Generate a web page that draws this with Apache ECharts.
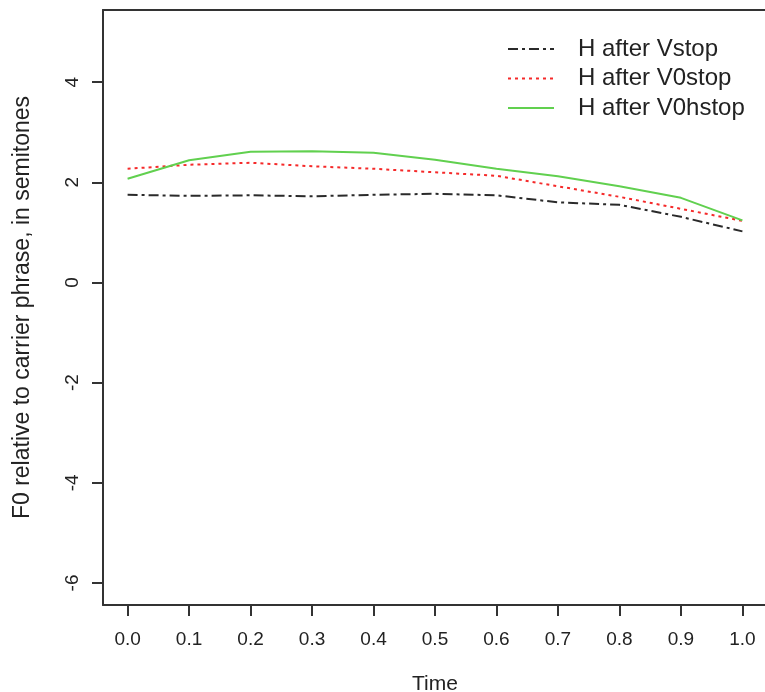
<!DOCTYPE html>
<html>
<head>
<meta charset="utf-8">
<script src="https://cdn.jsdelivr.net/npm/echarts@6/dist/echarts.min.js"></script>
<style>
html,body{margin:0;padding:0;background:#fff;}
#chart{width:765px;height:692px;}
</style>
</head>
<body>
<div id="chart"></div>
<script>
const timePoints = [0.0, 0.1, 0.2, 0.3, 0.4, 0.5, 0.6, 0.7, 0.8, 0.9, 1.0];
const seriesNames = ["H after Vstop", "H after V0stop", "H after V0hstop"];
const vstop   = [1.75, 1.73, 1.74, 1.72, 1.75, 1.77, 1.74, 1.60, 1.55, 1.31, 1.02];
const v0stop  = [2.27, 2.35, 2.39, 2.32, 2.27, 2.20, 2.13, 1.92, 1.71, 1.47, 1.23];
const v0hstop = [2.07, 2.44, 2.61, 2.62, 2.59, 2.45, 2.27, 2.12, 1.92, 1.69, 1.24];
const xTicks = [0.0, 0.1, 0.2, 0.3, 0.4, 0.5, 0.6, 0.7, 0.8, 0.9, 1.0];
const yTicks = [-6, -4, -2, 0, 2, 4];

const FONT = "'Liberation Sans', Arial, sans-serif";
const pairs = arr => timePoints.map((t, i) => [t, arr[i]]);
const AXIS_LINE = {show: true, onZero: false, lineStyle: {color: '#333', width: 2}};

const chart = echarts.init(document.getElementById('chart'), null, {renderer: 'canvas'});
chart.setOption({
  animation: false,
  backgroundColor: '#ffffff',
  textStyle: {fontFamily: FONT, color: '#222'},
  grid: {
    left: 103, top: 10, width: 664, height: 595,
    outerBoundsMode: 'none', containLabel: false, show: false
  },
  legend: {
    left: 507, top: 37, orient: 'vertical', padding: 0,
    itemWidth: 46, itemHeight: 14, itemGap: 5.5,
    itemStyle: {opacity: 0},
    textStyle: {fontFamily: FONT, fontSize: 24, color: '#222', lineHeight: 24, padding: [0, 0, 0, 19]},
    data: seriesNames
  },
  xAxis: [{
    type: 'value', min: -0.04, max: 1.04, position: 'bottom',
    name: 'Time', nameLocation: 'middle', nameGap: 69,
    nameTextStyle: {fontFamily: FONT, fontSize: 21, color: '#222', verticalAlign: 'top'},
    axisLine: AXIS_LINE,
    splitLine: {show: false},
    axisTick: {show: true, customValues: xTicks, length: 11, lineStyle: {color: '#333', width: 2}},
    axisLabel: {customValues: xTicks, margin: 25, fontSize: 19, color: '#222', fontFamily: FONT,
      formatter: v => Number(v).toFixed(1)}
  }, {
    type: 'value', min: -0.04, max: 1.04, position: 'top',
    axisLine: AXIS_LINE,
    splitLine: {show: false}, axisTick: {show: false}, axisLabel: {show: false}
  }],
  yAxis: {
    type: 'value', min: -6.44, max: 5.44,
    name: 'F0 relative to carrier phrase, in semitones', nameLocation: 'middle', nameGap: 69,
    nameTextStyle: {fontFamily: FONT, fontSize: 23, color: '#222'},
    axisLine: AXIS_LINE,
    splitLine: {show: false},
    axisTick: {show: true, customValues: yTicks, length: 11, lineStyle: {color: '#333', width: 2}},
    axisLabel: {customValues: yTicks, margin: 21, rotate: 90, fontSize: 19, color: '#222', fontFamily: FONT,
      formatter: v => String(Math.round(v))}
  },
  series: [
    {name: seriesNames[0], type: 'line', data: pairs(vstop), symbol: 'none',
      lineStyle: {color: '#2a2a2a', width: 2, type: [10, 4, 3, 4]}, itemStyle: {color: '#2a2a2a'}},
    {name: seriesNames[1], type: 'line', data: pairs(v0stop), symbol: 'none',
      lineStyle: {color: '#f52a2a', width: 2, type: [3, 4]}, itemStyle: {color: '#f52a2a'}},
    {name: seriesNames[2], type: 'line', data: pairs(v0hstop), symbol: 'none',
      lineStyle: {color: '#61D04F', width: 2, type: 'solid'}, itemStyle: {color: '#61D04F'}}
  ]
});
</script>
</body>
</html>
